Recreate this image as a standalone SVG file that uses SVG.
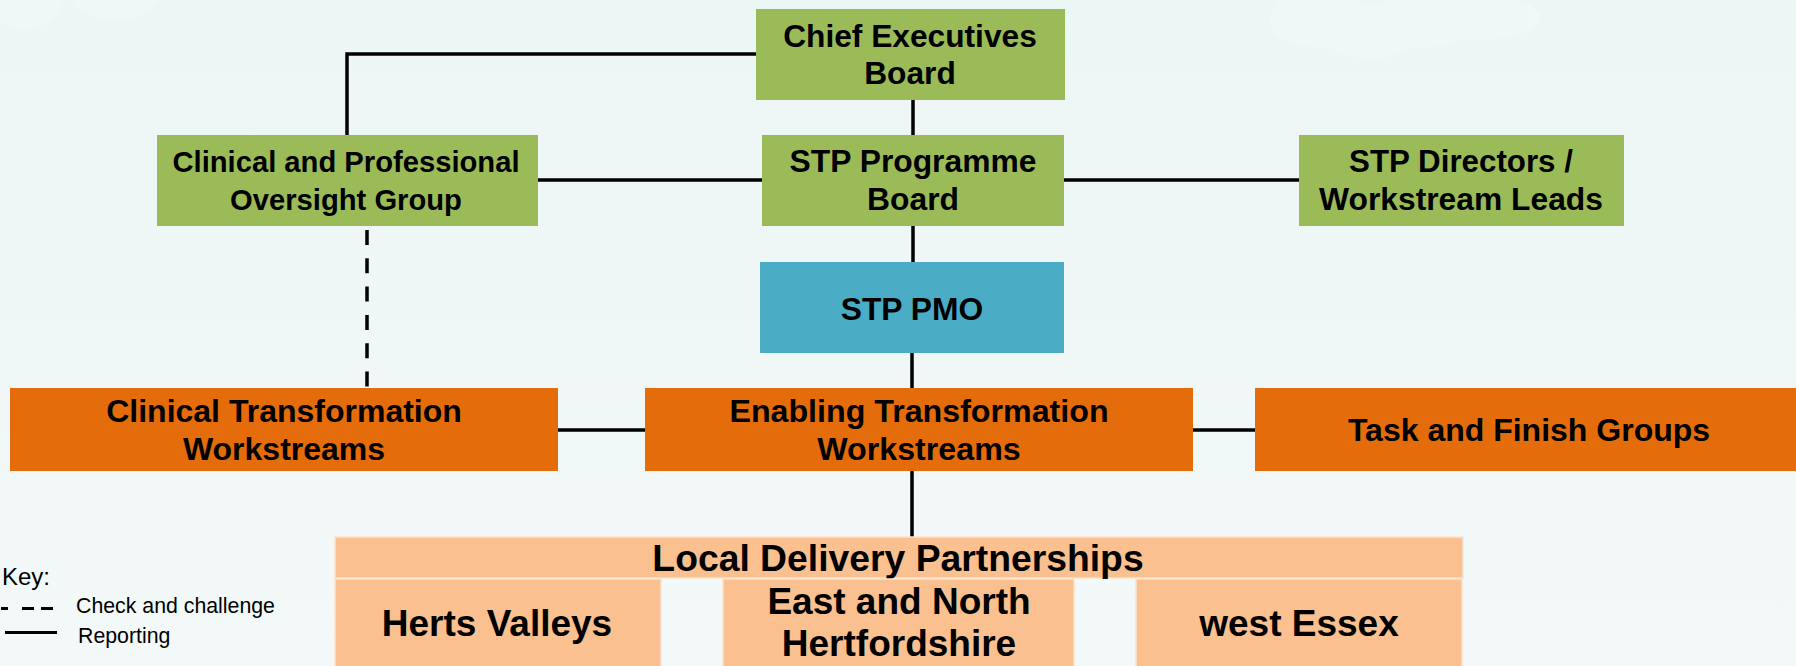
<svg xmlns="http://www.w3.org/2000/svg" width="1796" height="666" viewBox="0 0 1796 666">
  <defs>
    <linearGradient id="bg" x1="0" y1="0" x2="0" y2="1">
      <stop offset="0" stop-color="#ECF6F5"/>
      <stop offset="1" stop-color="#F3F9F8"/>
    </linearGradient>
    <style>
      .t { font-family: "Liberation Sans", Arial, sans-serif; font-weight: bold; fill: #000; text-anchor: middle; }
      .k { font-family: "Liberation Sans", Arial, sans-serif; fill: #000; }
      .green { fill: #9BBB59; }
      .blue { fill: #4BACC6; }
      .orange { fill: #E46C0A; }
      .peach { fill: #FAC090; stroke: #F7E3D0; stroke-width: 1.5; }
      .line { fill: none; stroke: #000; stroke-width: 3.5; }
      .dash { fill: none; stroke: #000; stroke-width: 3.5; stroke-dasharray: 15 13.3; }
      .cloud { fill: #FFFFFF; opacity: 0.25; }
    </style>
  </defs>

  <!-- background with soft clouds -->
  <rect x="0" y="0" width="1796" height="666" fill="url(#bg)"/>
  <g class="cloud">
    <circle cx="25" cy="-10" r="40"/>
    <circle cx="115" cy="-45" r="65"/>
    <ellipse cx="1320" cy="20" rx="50" ry="28"/>
    <ellipse cx="1370" cy="32" rx="50" ry="26"/>
    <ellipse cx="1420" cy="22" rx="55" ry="26"/>
    <ellipse cx="1480" cy="18" rx="60" ry="22"/>
  </g>

  <!-- connectors -->
  <g id="connectors">
    <path class="line" d="M756,54 H347 V135"/>
    <path class="line" d="M538,180 H762"/>
    <path class="line" d="M1064,180 H1299"/>
    <path class="line" d="M913,100 V135"/>
    <path class="line" d="M913,226 V262"/>
    <path class="line" d="M912,353 V388"/>
    <path class="line" d="M912,471 V537"/>
    <path class="line" d="M558,430 H645"/>
    <path class="line" d="M1193,430 H1255"/>
    <path class="dash" d="M367,230 V388"/>
  </g>

  <g id="chief-executives-board">
    <rect class="green" x="756" y="9" width="309" height="91"/>
    <text class="t" x="910" y="47" font-size="31.7">Chief Executives</text>
    <text class="t" x="910" y="84" font-size="31.7">Board</text>
  </g>

  <g id="clinical-professional-oversight">
    <rect class="green" x="157" y="135" width="381" height="91"/>
    <text class="t" x="346" y="172" font-size="29.2">Clinical and Professional</text>
    <text class="t" x="346" y="210" font-size="29.2">Oversight Group</text>
  </g>

  <g id="stp-programme-board">
    <rect class="green" x="762" y="135" width="302" height="91"/>
    <text class="t" x="913" y="172" font-size="31.8">STP Programme</text>
    <text class="t" x="913" y="210" font-size="31.8">Board</text>
  </g>

  <g id="stp-directors">
    <rect class="green" x="1299" y="135" width="325" height="91"/>
    <text class="t" x="1461" y="172" font-size="31.3">STP Directors /</text>
    <text class="t" x="1461" y="210" font-size="31.8">Workstream Leads</text>
  </g>

  <g id="stp-pmo">
    <rect class="blue" x="760" y="262" width="304" height="91"/>
    <text class="t" x="912" y="320" font-size="31.8">STP PMO</text>
  </g>

  <g id="clinical-transformation">
    <rect class="orange" x="10" y="388" width="548" height="83"/>
    <text class="t" x="284" y="422" font-size="32">Clinical Transformation</text>
    <text class="t" x="284" y="460" font-size="32">Workstreams</text>
  </g>

  <g id="enabling-transformation">
    <rect class="orange" x="645" y="388" width="548" height="83"/>
    <text class="t" x="919" y="422" font-size="32.2">Enabling Transformation</text>
    <text class="t" x="919" y="460" font-size="32.2">Workstreams</text>
  </g>

  <g id="task-finish-groups">
    <rect class="orange" x="1255" y="388" width="548" height="83"/>
    <text class="t" x="1529" y="441" font-size="32">Task and Finish Groups</text>
  </g>

  <g id="local-delivery-partnerships">
    <rect class="peach" x="335" y="537" width="1128" height="41"/>
    <text class="t" x="898" y="571" font-size="37.3">Local Delivery Partnerships</text>
  </g>

  <g id="herts-valleys">
    <rect class="peach" x="335" y="579" width="326" height="100"/>
    <text class="t" x="497" y="636" font-size="37">Herts Valleys</text>
  </g>

  <g id="east-north-herts">
    <rect class="peach" x="723" y="579" width="351" height="100"/>
    <text class="t" x="899" y="614" font-size="37">East and North</text>
    <text class="t" x="899" y="656" font-size="37">Hertfordshire</text>
  </g>

  <g id="west-essex">
    <rect class="peach" x="1136" y="579" width="326" height="100"/>
    <text class="t" x="1299" y="636" font-size="37">west Essex</text>
  </g>

  <!-- key -->
  <g id="key">
    <text class="k" x="2" y="585" font-size="24">Key:</text>
    <path d="M1,608.5 H8 M22,608.5 H34 M41,608.5 H53" stroke="#000" stroke-width="3" fill="none"/>
    <text class="k" x="76" y="612.5" font-size="21.3">Check and challenge</text>
    <path d="M5,632.5 H57" stroke="#000" stroke-width="3" fill="none"/>
    <text class="k" x="78" y="643" font-size="21.3">Reporting</text>
  </g>
</svg>
